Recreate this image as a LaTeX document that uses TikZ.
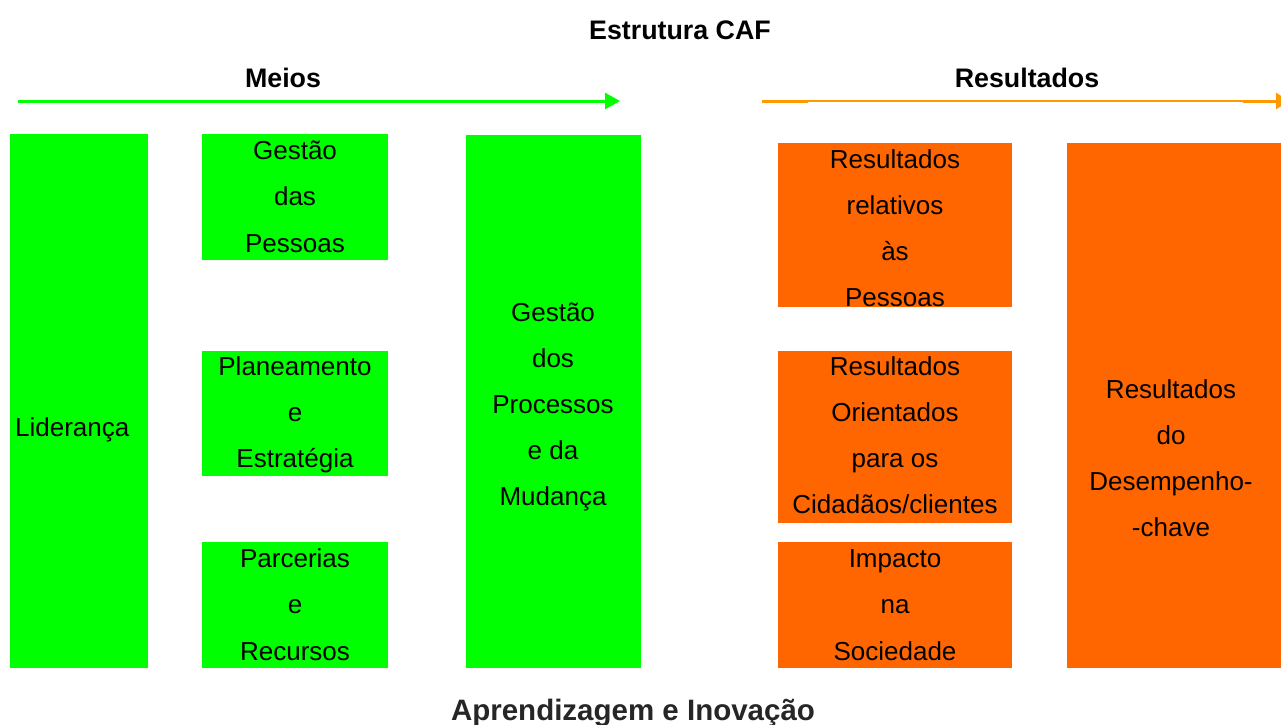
\documentclass[tikz,border=0pt]{standalone}
\usepackage{fontspec}
\setmainfont{Liberation Sans}
\usetikzlibrary{arrows.meta}
\definecolor{cgreen}{HTML}{00FF00}
\definecolor{corange}{HTML}{FF6600}
\definecolor{carrow}{HTML}{FF9900}
\definecolor{cdark}{HTML}{262626}
\begin{document}
\begin{tikzpicture}[x=1pt,y=-1pt,
  gbox/.style={fill=cgreen, draw=none, inner sep=0pt, outer sep=0pt},
  obox/.style={fill=corange, draw=none, inner sep=0pt, outer sep=0pt},
  txt/.style={inner sep=0pt, anchor=base, font=\fontsize{26}{30}\selectfont},
  head/.style={inner sep=0pt, anchor=base, font=\bfseries\fontsize{26.8}{30}\selectfont},
]
\useasboundingbox (0,0) rectangle (1281,724);
% boxes
\node[gbox, minimum width=138pt, minimum height=534pt] (lid) at (79,401) {};
\node[gbox, minimum width=186pt, minimum height=126pt] (gp) at (295,197) {};
\node[gbox, minimum width=186pt, minimum height=125pt] (pe) at (295,413.5) {};
\node[gbox, minimum width=186pt, minimum height=126pt] (pr) at (295,605) {};
\node[gbox, minimum width=175pt, minimum height=533pt] (gpm) at (553.5,401.5) {};
\node[obox, minimum width=234pt, minimum height=164pt] (rp) at (895,225) {};
\node[obox, minimum width=234pt, minimum height=172pt] (rc) at (895,437) {};
\node[obox, minimum width=234pt, minimum height=126pt] (is) at (895,605) {};
\node[obox, minimum width=214pt, minimum height=525pt] (rd) at (1174,405.5) {};
% texts
\node[txt, anchor=base west] (lid-1) at (15,436) {Liderança};
\foreach \t [count=\i] in {Gestão,das,Pessoas}
  \node[txt] (gp-\i) at (295,{159+46.5*(\i-1)}) {\t};
\foreach \t [count=\i] in {Planeamento,e,Estratégia}
  \node[txt] (pe-\i) at (295,{375+46*(\i-1)}) {\t};
\foreach \t [count=\i] in {Parcerias,e,Recursos}
  \node[txt] (pr-\i) at (295,{567+46.5*(\i-1)}) {\t};
\foreach \t [count=\i] in {Gestão,dos,Processos,e da,Mudança}
  \node[txt] (gpm-\i) at (553,{321+46*(\i-1)}) {\t};
\foreach \t [count=\i] in {Resultados,relativos,às,Pessoas}
  \node[txt] (rp-\i) at (895,{168+46*(\i-1)}) {\t};
\foreach \t [count=\i] in {Resultados,Orientados,para os,Cidadãos/clientes}
  \node[txt] (rc-\i) at (895,{375+46.3*(\i-1)}) {\t};
\foreach \t [count=\i] in {Impacto,na,Sociedade}
  \node[txt] (is-\i) at (895,{567+46.5*(\i-1)}) {\t};
\foreach \t [count=\i] in {Resultados,do,Desempenho-,-chave}
  \node[txt] (rd-\i) at (1171,{398+46*(\i-1)}) {\t};
% headings
\node[head] (title) at (680,39) {Estrutura CAF};
\node[head] (meios) at (283,87) {Meios};
\node[head] (res) at (1027,87) {Resultados};
\node[head, text=cdark, font=\bfseries\fontsize{29.5}{33}\selectfont] (apr) at (633,720) {Aprendizagem e Inovação};
% arrows
\coordinate (ga) at (18,101);
\coordinate (gb) at (620,101);
\draw[cgreen, line width=3pt, -{Triangle[length=15pt,width=16pt]}] (ga) -- (gb);
\coordinate (oa) at (762,101);
\coordinate (ob) at (1289,101);
\coordinate (oa2) at (808,101);
\coordinate (ob2) at (1243,101);
\draw[carrow, line width=1.5pt] (oa) -- (ob2);
\draw[carrow, line width=3pt] (oa) -- (oa2);
\draw[carrow, line width=3pt, -{Triangle[length=13pt,width=16pt]}] (ob2) -- (ob);
\end{tikzpicture}
\end{document}
